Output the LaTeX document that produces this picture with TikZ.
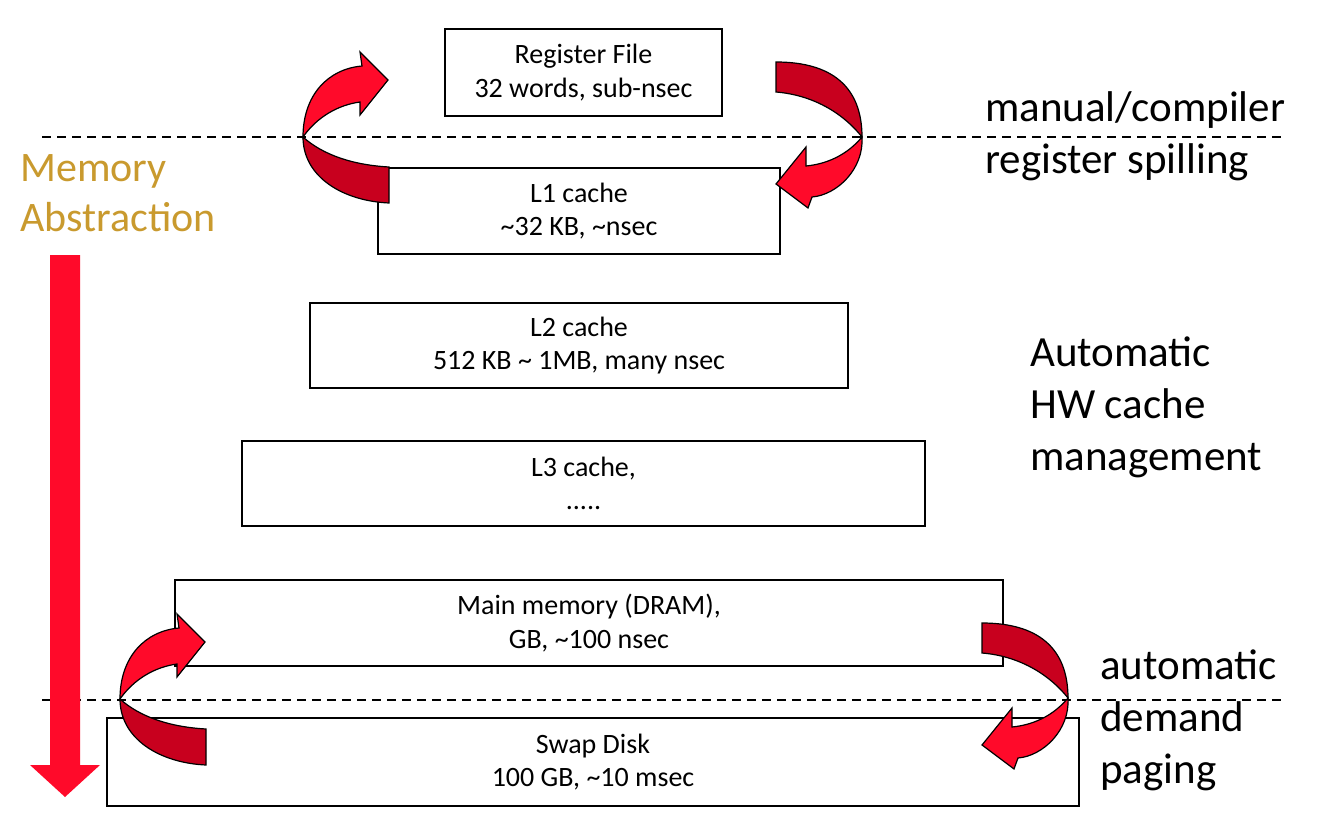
\documentclass[tikz,border=0pt]{standalone}
\usepackage{fontspec}
\setmainfont{Carlito}
\usetikzlibrary{positioning}
\definecolor{hotred}{HTML}{FF0A2A}
\definecolor{deepred}{HTML}{C8001E}
\definecolor{gold}{HTML}{C99A2E}
\tikzset{
  lvl/.style={draw=black,line width=1.5,fill=white,align=center,inner sep=0,font=\fontsize{28}{33.6}\selectfont},
  side/.style={anchor=west,align=left,inner sep=0,font=\fontsize{43}{52}\selectfont},
  cut/.style={dash pattern=on 9 off 6,line width=1.8},
  spillleft/.pic={
    \filldraw[fill=deepred,draw=black,line width=1.2] (0,0) .. controls (0,40) and (40,64) .. (86,66) -- (86,30) .. controls (50,28) and (20,18) .. (0,0) -- cycle;
    \filldraw[fill=hotred,draw=black,line width=1.2] (0,0) .. controls (0,-42) and (25,-68) .. (59,-71) -- (57,-85) -- (85,-57) -- (57,-22) -- (57,-35) .. controls (35,-32) and (14,-20) .. (0,0) -- cycle;
  },
  spillright/.pic={
    \filldraw[fill=deepred,draw=black,line width=1.2] (0,0) .. controls (0,-50) and (-30,-75) .. (-86,-75) -- (-86,-45) .. controls (-50,-42) and (-20,-25) .. (0,0) -- cycle;
    \filldraw[fill=hotred,draw=black,line width=1.2] (0,0) .. controls (2,32) and (-25,58) .. (-50,60) -- (-54,71) -- (-86,47) -- (-56,10) -- (-56,29) .. controls (-35,27) and (-15,18) .. (0,0) -- cycle;
  }
}
\begin{document}
\begin{tikzpicture}[x=1pt,y=-1pt]
\useasboundingbox[fill=white] (0,0) rectangle (1325,813);
\node[lvl,minimum width=277,minimum height=87] (reg) at (583.5,72.5) {Register File\\32 words, sub-nsec};
\node[lvl,minimum width=402,minimum height=86] (l1) at (579,211) {L1 cache\\\textasciitilde32 KB, \textasciitilde nsec};
\node[lvl,minimum width=538,minimum height=85] (l2) at (579,345.5) {L2 cache\\512 KB \textasciitilde{} 1MB, many nsec};
\node[lvl,minimum width=683,minimum height=85] (l3) at (583.5,483.5) {L3 cache,\\.....};
\node[lvl,minimum width=828,minimum height=86] (dram) at (589,623) {Main memory (DRAM),\\GB, \textasciitilde100 nsec};
\node[lvl,minimum width=972,minimum height=88] (disk) at (593,762) {Swap Disk\\100 GB, \textasciitilde10 msec};
\coordinate (c1a) at (42,137);
\coordinate (c1b) at (1285,137);
\coordinate (c2a) at (42,700);
\coordinate (c2b) at (1285,700);
\draw[cut] (c1a) -- (c1b);
\draw[cut] (c2a) -- (c2b);
\node[side] (spill) at (985,136) {manual/compiler\\register spilling};
\node[side] (hw) at (1030,407) {Automatic\\HW cache\\management};
\node[side] (page) at (1100,720) {automatic\\demand\\paging};
\node[side,text=gold,font=\fontsize{42}{50}\selectfont] (abs) at (20,193) {Memory\\Abstraction};
\fill[hotred] (50,255) -- (80,255) -- (80,765) -- (100,765) -- (65,797) -- (30,765) -- (50,765) -- cycle;
\pic at (303,137) {spillleft};
\pic at (862,137) {spillright};
\pic at (120,699) {spillleft};
\pic at (1068,698) {spillright};
\end{tikzpicture}
\end{document}
